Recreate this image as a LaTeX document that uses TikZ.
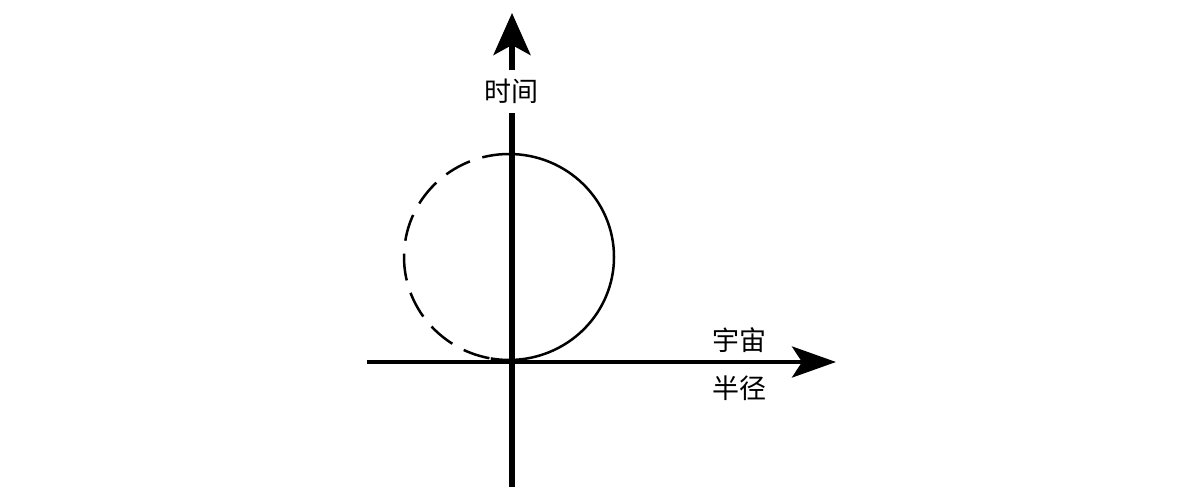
\documentclass[tikz,border=0pt]{standalone}
\usepackage{fontspec}
\newfontfamily\cjk{Noto Sans CJK SC}
\usetikzlibrary{arrows.meta}
\begin{document}
\begin{tikzpicture}[x=1pt,y=-1pt,
  vaxis/.style={line width=5.5pt},
  haxis/.style={line width=4.5pt},
  vtip/.style={-{Stealth[length=42pt,width=37pt,inset=10pt]}},
  htip/.style={-{Stealth[length=44pt,width=31pt,inset=10pt]}},
  lbl/.style={font=\cjk\fontsize{27}{30}\selectfont, inner sep=0pt},
  solidarc/.style={line width=2.5pt},
  dasharc/.style={line width=2.5pt, dash pattern=on 27pt off 13pt}]
\useasboundingbox (0,0) rectangle (1192,487);
% points
\coordinate (vtop) at (512,13);
\coordinate (vgapT) at (512,70);
\coordinate (vgapB) at (512,113);
\coordinate (vbot) at (512,490);
\coordinate (hleft) at (367,362);
\coordinate (hright) at (836,362);
\coordinate (ctop) at (509,154);
% labels
\node[lbl] (time) at (511,91) {时间};
\node[lbl] (yz) at (739,340) {宇宙};
\node[lbl] (bj) at (739,388) {半径};
% circle
\draw[solidarc] (ctop) arc[start angle=90, end angle=-100, x radius=105pt, y radius=103pt];
\draw[dasharc] (ctop) arc[start angle=90, end angle=265, x radius=105pt, y radius=103pt];
% axes
\draw[vaxis, vtip] (vgapT) -- (vtop);
\draw[vaxis] (vgapB) -- (vbot);
\draw[haxis, htip] (hleft) -- (hright);
\end{tikzpicture}
\end{document}
